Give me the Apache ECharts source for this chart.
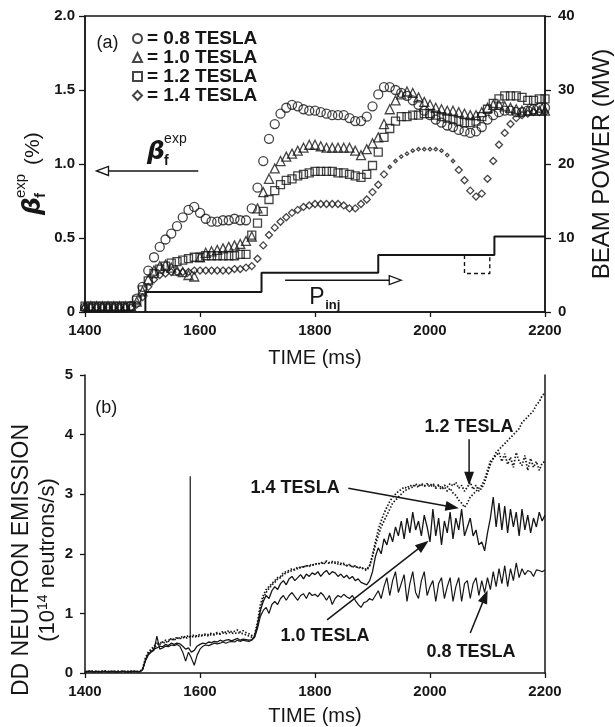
<!DOCTYPE html>
<html>
<head>
<meta charset="utf-8">
<script src="https://cdn.jsdelivr.net/npm/echarts/dist/echarts.min.js"></script>
<style>
  html, body { margin: 0; padding: 0; background: #fff; }
  #chart { width: 615px; height: 727px; }
</style>
</head>
<body>
<div id="chart"></div>
<script>
// ---------- panel (a): fast-ion beta from the four field scans ----------
const fieldNames = ['0.8 TESLA', '1.0 TESLA', '1.2 TESLA', '1.4 TESLA'];

// sample times of the beta points (ms), 10 ms apart
const betaStartMs = 1400, betaStepMs = 10;

const beta08 = [0.03,0.03,0.03,0.03,0.03,0.03,0.03,0.03,0.04,0.09,
  0.17,0.28,0.37,0.44,0.49,0.53,0.58,0.64,0.69,0.71,
  0.67,0.63,0.61,0.61,0.62,0.62,0.63,0.62,0.62,0.70,
  0.84,1.02,1.17,1.27,1.34,1.38,1.40,1.39,1.37,1.36,
  1.36,1.35,1.34,1.33,1.33,1.33,1.31,1.29,1.29,1.32,
  1.39,1.47,1.52,1.52,1.50,1.48,1.46,1.43,1.40,1.36,
  1.33,1.30,1.28,1.26,1.25,1.23,1.22,1.21,1.22,1.25,
  1.30,1.33,1.35,1.36,1.36,1.35,1.35,1.36,1.37,1.38,1.38];
const beta10 = [0.04,0.04,0.04,0.04,0.04,0.04,0.04,0.04,0.04,0.07,
  0.14,0.22,0.28,0.31,0.32,0.30,0.28,0.27,0.25,0.24,
  0.37,0.40,0.41,0.42,0.43,0.44,0.45,0.46,0.48,0.51,
  0.70,0.81,0.90,0.97,1.02,1.05,1.07,1.09,1.11,1.13,
  1.13,1.12,1.11,1.11,1.11,1.11,1.11,1.09,1.06,1.10,
  1.14,1.18,1.27,1.37,1.43,1.47,1.49,1.48,1.45,1.42,
  1.40,1.38,1.37,1.36,1.36,1.35,1.34,1.33,1.33,1.35,
  1.38,1.40,1.40,1.39,1.38,1.37,1.36,1.36,1.36,1.36,1.36];
const beta12 = [0.04,0.04,0.04,0.04,0.04,0.04,0.04,0.04,0.04,0.08,
  0.15,0.21,0.26,0.29,0.31,0.33,0.34,0.35,0.36,0.37,
  0.37,0.38,0.38,0.38,0.38,0.38,0.38,0.39,0.39,0.52,
  0.60,0.68,0.76,0.82,0.86,0.89,0.90,0.92,0.93,0.94,
  0.95,0.95,0.95,0.95,0.94,0.94,0.93,0.92,0.91,0.93,
  0.99,1.08,1.18,1.24,1.29,1.32,1.32,1.33,1.33,1.34,
  1.34,1.33,1.32,1.31,1.30,1.29,1.28,1.28,1.29,1.32,
  1.37,1.41,1.44,1.46,1.46,1.46,1.45,1.43,1.43,1.44,1.44];
const beta14 = [0.03,0.03,0.03,0.03,0.03,0.03,0.03,0.03,0.03,0.05,
  0.10,0.17,0.22,0.25,0.26,0.27,0.27,0.27,0.27,0.28,
  0.28,0.28,0.28,0.28,0.28,0.28,0.29,0.29,0.30,0.31,
  0.36,0.45,0.52,0.57,0.61,0.64,0.67,0.69,0.71,0.72,
  0.73,0.73,0.73,0.73,0.73,0.72,0.70,0.70,0.73,0.76,
  0.81,0.86,0.93,0.98,1.02,1.05,1.07,1.09,1.10,1.10,
  1.10,1.10,1.09,1.06,1.02,0.96,0.89,0.82,0.78,0.80,
  0.90,1.02,1.13,1.21,1.27,1.31,1.33,1.34,1.35,1.35,1.35];

// injected beam power (MW): level that starts at each time
const powerTimes  = [1505, 1505, 1707, 1910, 2112, 2200];
const powerLevels = [0,    2.7,  5.3,  7.7, 10.2, 10.2];
// reduced-power variant shown dashed
const powerDipTimes  = [2060, 2060, 2104, 2104];
const powerDipLevels = [7.7,  5.2,  5.2,  7.7];

// ---------- panel (b): DD neutron emission (1e14 n/s), 5 ms samples ----------
const neutronStartMs = 1400, neutronStepMs = 5;

const neutron08 = [
  0.02,0.03,0.02,0.02,0.03,0.02,0.02,0.03,0.02,0.02,0.03,0.02,0.02,0.03,0.02,0.02,0.03,0.02,0.03,0.02,
  0.05,0.20,0.30,0.35,0.38,0.62,0.40,0.42,0.45,0.44,0.47,0.46,0.48,0.45,0.35,0.20,0.35,0.25,0.13,0.30,
  0.40,0.45,0.47,0.46,0.48,0.50,0.49,0.50,0.52,0.50,0.52,0.53,0.52,0.55,0.53,0.55,0.54,0.53,0.55,0.60,
  0.75,0.95,1.05,1.10,1.00,1.15,1.20,1.15,1.25,1.30,1.22,1.30,1.35,1.28,1.22,1.30,1.33,1.25,1.35,1.30,
  1.32,1.28,1.35,1.30,1.22,1.30,1.15,1.25,1.30,1.27,1.32,1.28,1.25,1.30,1.22,1.15,1.10,1.18,1.20,1.25,
  1.22,1.30,1.38,1.25,1.45,1.60,1.30,1.55,1.70,1.35,1.50,1.65,1.20,1.50,1.70,1.35,1.25,1.55,1.70,1.30,
  1.45,1.55,1.20,1.50,1.60,1.25,1.45,1.60,1.20,1.45,1.60,1.20,1.50,1.55,1.25,1.50,1.60,1.30,1.55,1.35,
  1.60,1.40,1.70,1.45,1.75,1.50,1.80,1.45,1.75,1.55,1.85,1.60,1.75,1.65,1.72,1.70,1.62,1.73,1.72,1.70,
  1.73];
const neutron10 = [
  0.02,0.02,0.03,0.02,0.02,0.02,0.03,0.02,0.02,0.03,0.02,0.02,0.02,0.03,0.02,0.02,0.02,0.03,0.02,0.02,
  0.06,0.22,0.32,0.36,0.40,0.42,0.45,0.44,0.48,0.46,0.50,0.48,0.50,0.49,0.45,0.40,0.42,0.35,0.38,0.45,
  0.48,0.50,0.49,0.52,0.51,0.53,0.52,0.55,0.53,0.55,0.56,0.54,0.56,0.58,0.55,0.57,0.56,0.55,0.56,0.62,
  0.80,1.05,1.20,1.30,1.25,1.38,1.45,1.40,1.50,1.55,1.48,1.58,1.62,1.55,1.60,1.65,1.58,1.66,1.62,1.68,
  1.65,1.70,1.62,1.68,1.72,1.65,1.70,1.68,1.62,1.66,1.60,1.64,1.58,1.62,1.55,1.58,1.52,1.50,1.48,1.55,
  1.70,1.95,2.10,2.00,2.25,2.15,2.35,2.20,2.45,2.30,2.55,2.25,2.60,2.35,2.70,2.40,2.55,2.30,2.65,2.45,
  2.20,2.75,2.30,2.60,2.15,2.55,2.35,2.70,2.25,2.60,2.40,2.75,2.30,2.45,2.60,2.30,2.40,2.15,2.20,2.05,
  2.35,2.60,2.95,2.45,2.85,2.40,2.80,2.35,2.75,2.45,2.70,2.30,2.75,2.40,2.65,2.35,2.60,2.45,2.70,2.55,
  2.65];
const neutron12 = [
  0.02,0.03,0.03,0.02,0.03,0.02,0.03,0.03,0.02,0.03,0.02,0.03,0.03,0.02,0.03,0.02,0.03,0.03,0.02,0.03,
  0.06,0.25,0.35,0.40,0.45,0.50,0.48,0.52,0.55,0.53,0.58,0.56,0.60,0.58,0.62,0.60,0.63,0.61,0.64,0.62,
  0.65,0.63,0.66,0.64,0.67,0.65,0.68,0.66,0.70,0.68,0.71,0.69,0.70,0.72,0.69,0.71,0.68,0.66,0.63,0.65,
  0.85,1.15,1.30,1.40,1.45,1.50,1.55,1.60,1.62,1.68,1.70,1.72,1.75,1.73,1.78,1.76,1.80,1.78,1.82,1.80,
  1.84,1.82,1.86,1.83,1.88,1.85,1.87,1.84,1.86,1.82,1.84,1.80,1.82,1.78,1.80,1.76,1.78,1.74,1.72,1.80,
  1.95,2.15,2.30,2.45,2.55,2.65,2.75,2.85,2.90,2.95,3.00,3.05,3.08,3.10,3.12,3.15,3.12,3.18,3.14,3.16,
  3.15,3.18,3.12,3.16,3.10,3.15,3.12,3.18,3.14,3.20,3.10,3.15,3.05,3.12,3.20,3.08,3.15,3.05,3.10,3.20,
  3.35,3.50,3.60,3.70,3.75,3.80,3.85,3.90,3.95,4.00,4.05,4.10,4.20,4.25,4.30,4.35,4.40,4.50,4.55,4.65,
  4.70];
const neutron14 = [
  0.03,0.02,0.03,0.03,0.02,0.03,0.02,0.03,0.03,0.02,0.03,0.02,0.03,0.02,0.03,0.03,0.02,0.03,0.02,0.03,
  0.05,0.22,0.33,0.38,0.42,0.47,0.50,0.52,0.50,0.55,0.57,0.55,0.59,0.57,0.60,0.58,0.61,0.60,0.62,0.60,
  0.63,0.62,0.64,0.62,0.65,0.64,0.66,0.65,0.67,0.66,0.68,0.67,0.66,0.68,0.67,0.66,0.64,0.62,0.60,0.62,
  0.80,1.05,1.25,1.35,1.42,1.48,1.52,1.58,1.60,1.65,1.68,1.70,1.72,1.74,1.75,1.77,1.78,1.80,1.79,1.81,
  1.82,1.84,1.83,1.85,1.86,1.84,1.85,1.86,1.83,1.84,1.82,1.80,1.81,1.78,1.79,1.76,1.77,1.75,1.74,1.80,
  1.98,2.20,2.40,2.55,2.68,2.78,2.88,2.95,3.00,3.05,3.08,3.12,3.10,3.15,3.13,3.17,3.14,3.16,3.13,3.18,
  3.12,3.16,3.10,3.14,3.08,3.12,3.05,3.10,3.02,2.98,2.90,2.85,2.78,2.85,2.95,3.00,3.05,3.10,3.15,3.25,
  3.40,3.55,3.60,3.65,3.70,3.55,3.68,3.50,3.62,3.45,3.70,3.55,3.48,3.65,3.40,3.60,3.45,3.55,3.40,3.52,
  3.55];
// single-sample pickup spike on the detector channel
const spikeTimes  = [1583, 1583];
const spikeValues = [0.45, 3.30];

// ---------- annotation anchors (data units) ----------
const betaArrow  = { from: [1597, 0.953], to: [1420, 0.953], label: [1508, 1.08] };
const powerArrow = { from: [1748, 4.3], to: [1950, 4.3], label: [1790, 2.0] };
const neutronNotes = [
  { text: '1.2 TESLA', at: [2068, 4.12], align: 'center', from: [2068, 3.92], to: [2068, 3.18] },
  { text: '1.4 TESLA', at: [1688, 3.10], align: 'left',   from: [1858, 3.10], to: [2047, 2.77] },
  { text: '1.0 TESLA', at: [1740, 0.62], align: 'left',   from: [1821, 0.89], to: [1995, 2.20] },
  { text: '0.8 TESLA', at: [1994, 0.35], align: 'left',   from: [2070, 0.67], to: [2099, 1.36] }
];

// ---------- helpers ----------
const INK = '#161616';
const FONT = '"Liberation Sans", Arial, Helvetica, sans-serif';

function timeSeries(start, step, values) {
  return values.map((v, i) => [start + i * step, v]);
}
function zipPairs(xs, ys) {
  return xs.map((x, i) => [x, ys[i]]);
}

const markerStyle = { color: 'rgba(255,255,255,0)', borderColor: INK, borderWidth: 1.3 };
const betaSeries = [beta08, beta10, beta12, beta14];
const symbols = ['circle', 'triangle', 'rect', 'diamond'];
const symbolSizes = [9, 9, 8, 7];

const tickLabel = { color: INK, fontSize: 15, fontWeight: 'bold', fontFamily: FONT };
const axisLineStyle = { color: INK, width: 1.5 };

const chart = echarts.init(document.getElementById('chart'), null, { renderer: 'canvas' });

const series = [];
betaSeries.forEach((vals, k) => {
  series.push({
    name: fieldNames[k],
    type: 'scatter',
    xAxisIndex: 0, yAxisIndex: 0,
    symbol: symbols[k],
    symbolSize: k === 3
      ? (v) => (v[0] >= 1925 && v[0] <= 2040 ? 3.5 : symbolSizes[k])
      : symbolSizes[k],
    itemStyle: markerStyle,
    data: timeSeries(betaStartMs, betaStepMs, vals),
    z: 3
  });
});
series.push({
  name: 'Pinj',
  type: 'line', step: 'end',
  xAxisIndex: 0, yAxisIndex: 1,
  symbol: 'none',
  lineStyle: { color: INK, width: 2 },
  data: zipPairs(powerTimes, powerLevels),
  z: 2
});
series.push({
  name: 'Pinj-reduced',
  type: 'line',
  xAxisIndex: 0, yAxisIndex: 1,
  symbol: 'none',
  lineStyle: { color: INK, width: 1.4, type: [4, 3] },
  data: zipPairs(powerDipTimes, powerDipLevels),
  z: 2
});
const neutronSets = [
  { name: 'n 0.8 T', vals: neutron08, dash: 'solid', w: 1.2 },
  { name: 'n 1.0 T', vals: neutron10, dash: 'solid', w: 1.3 },
  { name: 'n 1.2 T', vals: neutron12, dash: [1.5, 1.8], w: 1.7 },
  { name: 'n 1.4 T', vals: neutron14, dash: [1.5, 1.8], w: 1.7 }
];
neutronSets.forEach((s) => {
  series.push({
    name: s.name,
    type: 'line',
    xAxisIndex: 1, yAxisIndex: 2,
    symbol: 'none',
    lineStyle: { color: INK, width: s.w, type: s.dash },
    data: timeSeries(neutronStartMs, neutronStepMs, s.vals)
  });
});
series.push({
  name: 'spike',
  type: 'line',
  xAxisIndex: 1, yAxisIndex: 2,
  symbol: 'none',
  lineStyle: { color: INK, width: 1.2 },
  data: zipPairs(spikeTimes, spikeValues)
});

const timeAxis = (grid, gap) => ({
  gridIndex: grid, type: 'value', min: 1400, max: 2200, interval: 200,
  name: 'TIME (ms)', nameLocation: 'middle', nameGap: gap,
  nameTextStyle: { color: INK, fontSize: 20, fontFamily: FONT },
  axisLine: { show: true, onZero: false, lineStyle: axisLineStyle },
  axisTick: { show: true, length: 5, lineStyle: { color: INK, width: 1.3 } },
  axisLabel: Object.assign({ margin: 11, formatter: (v) => String(v) }, tickLabel),
  splitLine: { show: false }
});

chart.setOption({
  animation: false,
  backgroundColor: '#ffffff',
  textStyle: { fontFamily: FONT, color: INK },
  grid: [
    { left: 85, right: 70, top: 16, height: 296, containLabel: false, outerBoundsMode: 'none',
      show: true, borderColor: INK, borderWidth: 1.5, backgroundColor: 'rgba(0,0,0,0)' },
    { left: 85, right: 70, top: 375, height: 298, containLabel: false, outerBoundsMode: 'none' }
  ],
  legend: {
    data: fieldNames,
    orient: 'vertical',
    left: 127, top: 24,
    itemWidth: 9, itemHeight: 9, itemGap: 0,
    selectedMode: false,
    formatter: (n) => '= ' + n,
    textStyle: { color: INK, fontSize: 19, fontWeight: 'bold', fontFamily: FONT, lineHeight: 18.3 }
  },
  xAxis: [timeAxis(0, 36), timeAxis(1, 33)],
  yAxis: [
    {
      gridIndex: 0, type: 'value', min: 0, max: 2, interval: 0.5,
      axisLine: { show: true, onZero: false, lineStyle: axisLineStyle },
      axisTick: { show: true, length: 6, lineStyle: { color: INK, width: 1.3 } },
      axisLabel: Object.assign({ margin: 10, formatter: (v) => (v === 0 ? '0' : v.toFixed(1)) }, tickLabel),
      splitLine: { show: false }
    },
    {
      gridIndex: 0, type: 'value', position: 'right', min: 0, max: 40, interval: 10,
      name: 'BEAM POWER (MW)', nameLocation: 'middle', nameRotate: 90, nameGap: 45,
      nameTextStyle: { color: INK, fontSize: 24, fontFamily: FONT },
      axisLine: { show: true, onZero: false, lineStyle: axisLineStyle },
      axisTick: { show: true, length: 6, lineStyle: { color: INK, width: 1.3 } },
      axisLabel: Object.assign({ margin: 13 }, tickLabel),
      splitLine: { show: false }
    },
    {
      gridIndex: 1, type: 'value', min: 0, max: 5, interval: 1,
      axisLine: { show: true, onZero: false, lineStyle: axisLineStyle },
      axisTick: { show: true, length: 5, lineStyle: { color: INK, width: 1.3 } },
      axisLabel: Object.assign({ margin: 12 }, tickLabel),
      splitLine: { show: false }
    },
    {
      gridIndex: 1, type: 'value', position: 'right', min: 0, max: 5,
      axisLine: { show: true, onZero: false, lineStyle: axisLineStyle },
      axisTick: { show: false }, axisLabel: { show: false },
      splitLine: { show: false }
    }
  ],
  series: series
});

// ---------- annotations drawn on top, positioned through the axes ----------
const toA = (p) => chart.convertToPixel({ xAxisIndex: 0, yAxisIndex: 0 }, p);
const toP = (p) => chart.convertToPixel({ xAxisIndex: 0, yAxisIndex: 1 }, p);
const toB = (p) => chart.convertToPixel({ xAxisIndex: 1, yAxisIndex: 2 }, p);

function arrow(p0, p1, hollow) {
  const dx = p1[0] - p0[0], dy = p1[1] - p0[1];
  const len = Math.hypot(dx, dy), ux = dx / len, uy = dy / len;
  const hl = hollow ? 12 : 11, hw = hollow ? 4.5 : 4;
  const bx = p1[0] - ux * hl, by = p1[1] - uy * hl;
  return [
    { type: 'polyline', shape: { points: [p0, [bx, by]] }, style: { stroke: INK, lineWidth: 1.5, fill: null }, z: 10 },
    { type: 'polygon', shape: { points: [p1, [bx - uy * hw, by + ux * hw], [bx + uy * hw, by - ux * hw]] },
      style: { fill: hollow ? '#fff' : INK, stroke: INK, lineWidth: 1.3 }, z: 10 }
  ];
}
function label(text, p, opts) {
  return Object.assign({
    type: 'text', x: p[0], y: p[1], z: 10,
    style: Object.assign({ text: text, fill: INK, font: 'bold 18px ' + FONT, textAlign: 'left', textVerticalAlign: 'middle' }, opts || {})
  });
}

const g = [];
// panel tags
g.push(label('(a)', toA([1420, 1.82]), { font: '18px ' + FONT }));
g.push(label('(b)', toB([1418, 4.45]), { font: '18px ' + FONT }));

// beta annotation with its arrow
const bl = toA(betaArrow.label);
g.push(label('β', bl, { font: 'italic bold 25px "DejaVu Sans", sans-serif' }));
g.push(label('exp', [bl[0] + 17, bl[1] - 13], { font: '14px ' + FONT }));
g.push(label('f', [bl[0] + 17, bl[1] + 9], { font: 'bold 14px ' + FONT }));
g.push(...arrow(toA(betaArrow.from), toA(betaArrow.to), true));

// injected power annotation
const pl = toP(powerArrow.label);
g.push(label('P', pl, { font: '23px ' + FONT }));
g.push(label('inj', [pl[0] + 16, pl[1] + 8], { font: 'bold 13px ' + FONT }));
g.push(...arrow(toP(powerArrow.from), toP(powerArrow.to), true));

// neutron panel notes
neutronNotes.forEach((n) => {
  g.push(label(n.text, toB(n.at), { textAlign: n.align }));
  g.push(...arrow(toB(n.from), toB(n.to), false));
});

// left axis titles (rotated, reading upward)
g.push({
  type: 'group', x: 33, y: 215, rotation: Math.PI / 2,
  children: [
    { type: 'text', x: 0, y: 0, style: { text: 'β', fill: INK, font: 'italic bold 25px "DejaVu Sans", sans-serif', textVerticalAlign: 'middle' } },
    { type: 'text', x: 17, y: -12, style: { text: 'exp', fill: INK, font: '15px ' + FONT, textVerticalAlign: 'middle' } },
    { type: 'text', x: 17, y: 8, style: { text: 'f', fill: INK, font: 'bold 15px ' + FONT, textVerticalAlign: 'middle' } },
    { type: 'text', x: 50, y: 0, style: { text: '(%)', fill: INK, font: '21px ' + FONT, textVerticalAlign: 'middle' } }
  ]
});
g.push({
  type: 'group', x: 22, y: 560, rotation: Math.PI / 2,
  children: [
    { type: 'text', x: 0, y: 0, style: { text: 'DD NEUTRON EMISSION', fill: INK, font: '23px ' + FONT, textAlign: 'center', textVerticalAlign: 'middle' } },
    { type: 'text', x: 0, y: 26, style: {
        text: '{n|(10}{s|14}{n| neutrons/s)}', textAlign: 'center', textVerticalAlign: 'middle', fill: INK,
        rich: { n: { font: '22px ' + FONT, fill: INK }, s: { font: '14px ' + FONT, fill: INK, padding: [0, 0, 10, 0] } }
      } }
  ]
});

chart.setOption({ graphic: g });
</script>
</body>
</html>
